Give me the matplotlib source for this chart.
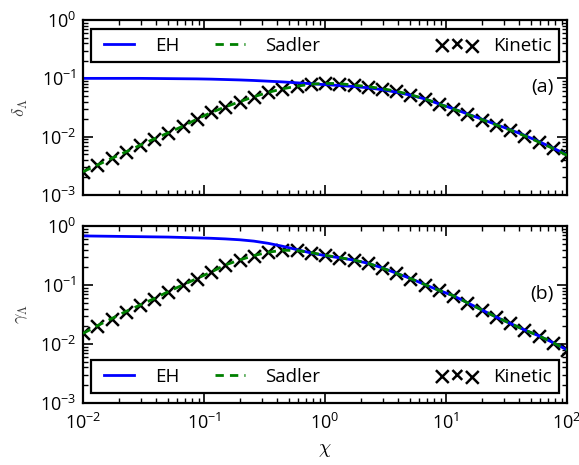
import numpy as np
import matplotlib
matplotlib.use('Agg')
import matplotlib.pyplot as plt
from matplotlib.ticker import FuncFormatter, NullFormatter
from matplotlib.lines import Line2D
from matplotlib.legend_handler import HandlerPathCollection

# griglia in chi (35 punti equispaziati in log tra 1e-2 e 1e2)
chi = np.logspace(-2, 2, 35)

# pannello (a): delta_Lambda
delta_eh = [0.100, 0.100, 0.100, 0.100, 0.100, 0.0995, 0.099, 0.0985, 0.098, 0.097,
            0.0955, 0.094, 0.092, 0.0895, 0.087, 0.084, 0.081, 0.078, 0.0755, 0.0725,
            0.069, 0.064, 0.058, 0.0515, 0.0445, 0.0365, 0.0302, 0.0246, 0.0200, 0.0162,
            0.0132, 0.0106, 0.0083, 0.0064, 0.0049]
delta_sadler = [0.00251, 0.00326, 0.00423, 0.00548, 0.00711, 0.00916, 0.0117, 0.0151, 0.0200, 0.0260,
                0.0324, 0.0398, 0.0484, 0.0575, 0.0661, 0.0733, 0.0794, 0.0822, 0.0813, 0.0767,
                0.0724, 0.0668, 0.0603, 0.0525, 0.0447, 0.0363, 0.0299, 0.0243, 0.0197, 0.0160,
                0.0130, 0.0104, 0.00813, 0.00631, 0.00479]
delta_kinetic = [0.00251, 0.00326, 0.00423, 0.00548, 0.00711, 0.00916, 0.0117, 0.0151, 0.0200, 0.0260,
                 0.0324, 0.0398, 0.0484, 0.0575, 0.0661, 0.0733, 0.0794, 0.0822, 0.0813, 0.0767,
                 0.0724, 0.0668, 0.0603, 0.0525, 0.0447, 0.0363, 0.0299, 0.0243, 0.0197, 0.0160,
                 0.0130, 0.0104, 0.00813, 0.00631, 0.00479]

# pannello (b): gamma_Lambda
gamma_eh = [0.68, 0.675, 0.67, 0.665, 0.66, 0.655, 0.65, 0.64, 0.63, 0.62,
            0.605, 0.585, 0.555, 0.51, 0.455, 0.40, 0.35, 0.315, 0.29, 0.265,
            0.234, 0.196, 0.159, 0.129, 0.102, 0.0813, 0.0661, 0.0501, 0.0380, 0.0288,
            0.0224, 0.0174, 0.0138, 0.0106, 0.00794]
gamma_sadler = [0.0151, 0.0204, 0.0269, 0.0355, 0.0457, 0.0589, 0.0776, 0.100, 0.129, 0.166,
                0.219, 0.266, 0.316, 0.359, 0.389, 0.385, 0.355, 0.320, 0.292, 0.266,
                0.234, 0.195, 0.158, 0.129, 0.102, 0.0813, 0.0661, 0.0501, 0.0380, 0.0288,
                0.0224, 0.0174, 0.0138, 0.0106, 0.00794]
gamma_kinetic = [0.0151, 0.0204, 0.0269, 0.0355, 0.0457, 0.0589, 0.0776, 0.100, 0.129, 0.166,
                 0.219, 0.266, 0.316, 0.359, 0.389, 0.385, 0.355, 0.320, 0.292, 0.266,
                 0.234, 0.195, 0.158, 0.129, 0.102, 0.0813, 0.0661, 0.0501, 0.0380, 0.0288,
                 0.0224, 0.0174, 0.0138, 0.0106, 0.00794]

plt.rcParams['font.family'] = ['Open Sans', 'DejaVu Sans']
plt.rcParams['mathtext.fontset'] = 'cm'
plt.rcParams['font.size'] = 13

fig = plt.figure(figsize=(5.79, 4.65), dpi=100)
ax1 = fig.add_axes([0.1434, 0.5806, 0.836, 0.3763])
ax2 = fig.add_axes([0.1434, 0.1333, 0.836, 0.3806])

pow10 = FuncFormatter(lambda v, pos: r'$\mathregular{10^{%d}}$' % round(np.log10(v)))


def pannello(ax, eh, sadler, kinetic, ylabel, tag, legloc, bbox):
    sc = ax.scatter(chi, kinetic, marker='x', s=85, c='k', linewidths=1.8, zorder=1)
    l1, = ax.plot(chi, eh, '-', color='b', lw=2.0, zorder=2)
    l2, = ax.plot(chi, sadler, '--', color='g', lw=2.0, dashes=(3, 2.2), zorder=3)
    ax.set_xscale('log')
    ax.set_yscale('log')
    ax.set_xlim(1e-2, 1e2)
    ax.set_ylim(1e-3, 1e0)
    ax.xaxis.set_major_formatter(pow10)
    ax.yaxis.set_major_formatter(pow10)
    ax.xaxis.set_minor_formatter(NullFormatter())
    ax.yaxis.set_minor_formatter(NullFormatter())
    ax.tick_params(which='both', direction='in', top=True, right=True)
    ax.tick_params(which='major', length=7, width=1.2, labelsize=13)
    ax.tick_params(which='minor', length=3.5, width=1.0)
    ax.tick_params(axis='x', pad=7)
    ax.tick_params(axis='y', pad=5)
    for s in ax.spines.values():
        s.set_linewidth(1.6)
    ax.set_ylabel(ylabel, fontsize=13, labelpad=7, color='0.25')
    ax.text(0.973, 0.615, tag, transform=ax.transAxes, ha='right', va='center', fontsize=14)
    # colonna vuota per distanziare "Kinetic" come nell'originale
    vuoto = Line2D([], [], color='none')
    leg = ax.legend([l1, l2, vuoto, sc], ['EH', 'Sadler', '', 'Kinetic'],
                    ncol=4, mode='expand', loc=legloc, bbox_to_anchor=bbox,
                    borderaxespad=0, fancybox=False, framealpha=1, fontsize=13.5,
                    handlelength=2.2, handletextpad=0.8, numpoints=2, scatterpoints=3,
                    borderpad=0.4,
                    handler_map={sc: HandlerPathCollection(sizes=[85, 50, 85])})
    leg.get_frame().set_edgecolor('k')
    leg.get_frame().set_linewidth(1.6)


pannello(ax1, delta_eh, delta_sadler, delta_kinetic, r'$\delta_\Lambda$', '(a)',
         'upper left', (0.0165, 0, 0.967, 0.9486))
pannello(ax2, gamma_eh, gamma_sadler, gamma_kinetic, r'$\gamma_\Lambda$', '(b)',
         'lower left', (0.0165, 0.0565, 0.967, 1))

ax1.tick_params(labelbottom=False)
ax2.set_xlabel(r'$\chi$', fontsize=14, labelpad=6)

fig.savefig('out.png', dpi=100)
